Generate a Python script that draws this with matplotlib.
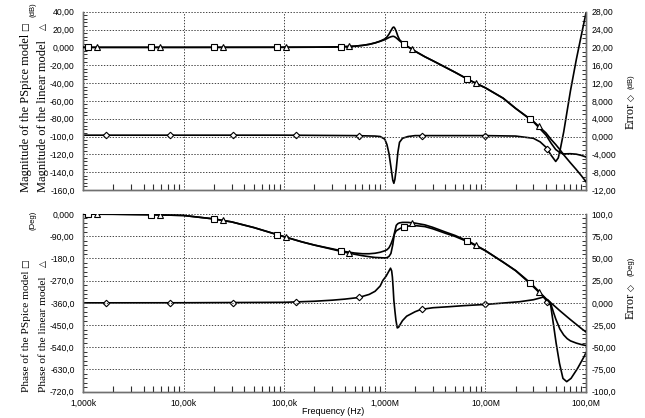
import numpy as np
import matplotlib
matplotlib.use("Agg")
import matplotlib.pyplot as plt
from matplotlib.ticker import FixedLocator, AutoMinorLocator, NullFormatter

# ---------------- data ----------------
# Top panel: magnitude in dB
mag_freq = [1e3, 1e4, 1e5, 2e5, 3e5, 4e5, 5e5, 6e5, 7e5, 8e5, 9e5, 1e6, 1.05e6, 1.1e6,
            1.15e6, 1.2e6, 1.23e6, 1.26e6, 1.3e6, 1.35e6, 1.4e6, 1.5e6, 1.7e6, 2e6, 2.5e6,
            3e6, 4e6, 5e6, 7e6, 1e7, 1.5e7, 2e7, 3e7, 4e7, 4.5e7, 5e7, 5.5e7, 6e7, 7e7,
            8e7, 9e7, 1e8]
mag_pspice = [0, 0, 0.1, 0.2, 0.4, 0.8, 1.3, 2.2, 3.4, 5.0, 6.8, 8.6, 9.8, 11.0,
              11.9, 12.4, 12.3, 11.7, 10.6, 9.0, 7.4, 4.8, 0.6, -4.3, -10.5,
              -15.0, -22.3, -28.0, -37.0, -45.4, -57.0, -68.5, -83.5, -98.4, -107.5, -114.6, -118.0, -119.5, -119.3,
              -119.8, -121.2, -123.0]
mag_linear = [0, 0, 0.1, 0.2, 0.4, 0.8, 1.3, 2.2, 3.4, 5.0, 7.0, 9.5, 11.6, 14.8,
              18.7, 22.2, 22.8, 21.3, 17.8, 12.5, 8.7, 5.2, 0.7, -4.3, -10.5,
              -15.0, -22.3, -28.0, -37.0, -45.4, -57.0, -68.5, -83.0, -96.0, -103.3, -109.0, -114.7, -120.5, -129.5,
              -137.0, -144.0, -150.7]

err_mag_freq = [1e3, 1e5, 5e5, 8e5, 9e5, 1e6, 1.05e6, 1.1e6, 1.15e6, 1.2e6, 1.23e6, 1.26e6,
                1.3e6, 1.35e6, 1.4e6, 1.5e6, 1.7e6, 2e6, 1e7, 2e7, 3e7, 3.5e7, 4e7, 4.5e7,
                5e7, 5.3e7, 5.5e7, 6e7, 7e7, 8e7, 9e7, 1e8]
err_mag = [0.3, 0.3, 0.2, 0.1, 0.0, -0.6, -1.8, -3.8, -6.8, -9.8, -10.5, -9.6,
           -7.2, -3.5, -1.3, -0.4, 0.0, 0.2, 0.2, 0.1, -0.4, -1.2, -2.4, -4.2,
           -5.6, -4.8, -3.3, 1.0, 10.2, 17.2, 22.8, 27.7]

# Bottom panel: phase in degrees
ph_freq = [1e3, 2e3, 5e3, 1e4, 2e4, 3e4, 5e4, 7e4, 1e5, 1.5e5, 2e5, 3e5, 4e5, 5e5, 6e5,
           7e5, 8e5, 9e5, 1e6, 1.05e6, 1.1e6, 1.15e6, 1.2e6, 1.25e6, 1.3e6, 1.35e6, 1.4e6,
           1.5e6, 1.7e6, 2e6, 2.5e6, 3e6, 4e6, 5e6, 7e6, 1e7, 1.5e7, 2e7, 2.5e7, 3e7,
           4e7, 4.2e7, 4.5e7, 4.75e7, 5e7, 5.5e7, 6e7, 6.5e7, 7e7, 8e7, 9e7, 1e8]
ph_pspice = [-0.5, -1, -3, -6, -20, -32, -55, -73, -92, -113, -126, -141, -152, -158, -161,
             -161, -159, -155, -149, -145, -137, -122, -102, -80, -68, -64, -60,
             -54, -49, -47, -51, -60, -78, -91, -116, -149, -195, -229, -262, -291,
             -343, -351, -368, -398, -425, -466, -490, -505, -514, -523, -529, -533]
ph_linear = [-0.5, -1, -3, -6, -20, -32, -55, -73, -92, -113, -126, -143, -155, -163, -169,
             -173, -176, -177, -178, -177, -172, -160, -125, -75, -46, -39, -36,
             -34, -34, -37, -44, -54, -73, -87, -113, -148, -195, -230, -265, -295,
             -345, -351, -361, -369, -377, -392, -405, -417, -428, -447, -464, -478]

err_ph_freq = [1e3, 1e4, 1e5, 2e5, 3e5, 4e5, 5.5e5, 7e5, 8e5, 9e5, 9.6e5, 1.03e6, 1.09e6,
               1.14e6, 1.17e6, 1.19e6, 1.21e6, 1.23e6, 1.26e6, 1.29e6, 1.33e6, 1.37e6,
               1.41e6, 1.5e6, 1.65e6, 2e6, 2.28e6, 3e6, 4.4e6, 6e6, 9.6e6, 1.4e7, 2.2e7,
               3e7, 3.5e7, 3.75e7, 3.9e7, 4.06e7, 4.45e7, 4.73e7, 5.05e7, 5.45e7, 5.9e7,
               6.43e7, 7.1e7, 8.25e7, 9.65e7, 1e8]
err_ph = [0.0, 0.1, 0.6, 1.8, 3.0, 4.2, 6.0, 9.5, 13.0, 19.0, 25.5, 30.0, 35.0,
          39.0, 36.0, 29.0, 17.0, 3.0, -9.0, -19.5, -28.2, -27.5,
          -25.0, -20.0, -15.0, -10.0, -7.5, -5.5, -4.3, -3.2, -1.9, -0.5, 1.3,
          3.5, 5.5, 6.5, 5.0, 1.3, -2.4, -23.0, -45.5, -68.0, -85.0,
          -88.7, -85.0, -73.7, -59.8, -56.0]

# marker frequencies (PSpice places a marker every few samples)
sq_freq = [1.12e3, 4.76e3, 2.02e4, 8.56e4, 3.63e5, 1.54e6, 6.54e6, 2.78e7]
tri_freq = [1.38e3, 5.82e3, 2.47e4, 1.05e5, 4.44e5, 1.88e6, 7.99e6, 3.39e7]
dia_freq = [1.71e3, 7.26e3, 3.08e4, 1.31e5, 5.54e5, 2.35e6, 9.96e6, 4.13e7]

x_ticks = [1e3, 1e4, 1e5, 1e6, 1e7, 1e8]
x_tick_labels = ["1,000k", "10,00k", "100,0k", "1,000M", "10,00M", "100,0M"]
mag_ticks = [40, 20, 0, -20, -40, -60, -80, -100, -120, -140, -160]
mag_tick_labels = ["40,00", "20,00", "0,000", "-20,00", "-40,00", "-60,00", "-80,00",
                   "-100,0", "-120,0", "-140,0", "-160,0"]
errm_ticks = [28, 24, 20, 16, 12, 8, 4, 0, -4, -8, -12]
errm_tick_labels = ["28,00", "24,00", "20,00", "16,00", "12,00", "8,000", "4,000",
                    "0,000", "-4,000", "-8,000", "-12,00"]
ph_ticks = [0, -90, -180, -270, -360, -450, -540, -630, -720]
ph_tick_labels = ["0,000", "-90,00", "-180,0", "-270,0", "-360,0", "-450,0", "-540,0",
                  "-630,0", "-720,0"]
errp_ticks = [100, 75, 50, 25, 0, -25, -50, -75, -100]
errp_tick_labels = ["100,0", "75,00", "50,00", "25,00", "0,000", "-25,00", "-50,00",
                    "-75,00", "-100,0"]

# ---------------- drawing ----------------
W, H = 645, 418
fig = plt.figure(figsize=(W / 100, H / 100), dpi=100)
SANS = ["Liberation Sans", "DejaVu Sans"]
SERIF = ["Liberation Serif", "DejaVu Sans"]
SYM = ["DejaVu Sans"]
TICK_FS = 6.2
LW = 1.2
grid_kw = dict(color="#444444", linestyle=(0, (1.4, 1.6)), linewidth=0.7)


def px_axes(x0, y0, x1, y1):
    return fig.add_axes([x0 / W, 1 - y1 / H, (x1 - x0) / W, (y1 - y0) / H])


def marker_y(fr, xs, ys):
    return np.interp(np.log10(fr), np.log10(xs), ys)


def style_axes(ax, axr, yticks, ylabels, ylim, rticks, rlabels, rlim, lminor, rminor, show_x):
    ax.set_xscale("log")
    ax.set_xlim(1e3, 1e8)
    ax.set_ylim(*ylim)
    axr.set_ylim(*rlim)
    ax.set_yticks(yticks)
    ax.set_yticklabels(ylabels, fontsize=TICK_FS, family=SANS)
    axr.set_yticks(rticks)
    axr.set_yticklabels(rlabels, fontsize=TICK_FS, family=SANS)
    ax.yaxis.set_minor_locator(AutoMinorLocator(lminor))
    axr.yaxis.set_minor_locator(AutoMinorLocator(rminor))
    ax.set_xticks(x_ticks)
    ax.xaxis.set_minor_locator(FixedLocator([m * d for d in [1e3, 1e4, 1e5, 1e6, 1e7] for m in range(2, 10)]))
    ax.xaxis.set_minor_formatter(NullFormatter())
    if show_x:
        ax.set_xticklabels(x_tick_labels, fontsize=TICK_FS, family=SANS)
    else:
        ax.set_xticklabels([])
    ax.grid(True, which="major", **grid_kw)
    for a in (ax, axr):
        a.spines["top"].set_visible(False)
        for s in ("left", "right", "bottom"):
            a.spines[s].set_color("#707070")
            a.spines[s].set_linewidth(1.0)
    ax.tick_params(axis="x", which="major", direction="in", length=0, pad=5)
    ax.tick_params(axis="x", which="minor", direction="in", length=4.5, width=0.8, color="#303030")
    ax.tick_params(axis="y", which="major", direction="in", length=0, pad=6)
    ax.tick_params(axis="y", which="minor", direction="in", length=3.0, width=0.7, color="#303030")
    axr.tick_params(axis="y", which="major", direction="in", length=0, pad=4)
    axr.tick_params(axis="y", which="minor", direction="in", length=3.0, width=0.7, color="#303030")
    ax.set_zorder(axr.get_zorder() + 1)
    ax.patch.set_visible(False)


mk = dict(markerfacecolor="white", markeredgecolor="black", markeredgewidth=0.8, linestyle="none", zorder=5)

# ---- top panel ----
ax1 = px_axes(83, 11.7, 586, 190)
ax1r = ax1.twinx()
ax1.plot(mag_freq, mag_pspice, color="black", lw=LW, zorder=3)
ax1.plot(mag_freq, mag_linear, color="black", lw=LW, zorder=3)
ax1r.plot(err_mag_freq, err_mag, color="black", lw=LW)
ax1.plot(sq_freq, marker_y(sq_freq, mag_freq, mag_pspice), marker="s", markersize=4, **mk)
ax1.plot(tri_freq, marker_y(tri_freq, mag_freq, mag_linear), marker="^", markersize=5, **mk)
ax1r.plot(dia_freq, marker_y(dia_freq, err_mag_freq, err_mag), marker="D", markersize=3.3, **mk)
style_axes(ax1, ax1r, mag_ticks, mag_tick_labels, (-160, 40), errm_ticks, errm_tick_labels, (-12, 28), 5, 4, False)

# ---- bottom panel ----
ax2 = px_axes(83, 214, 586, 391.7)
ax2r = ax2.twinx()
ax2.plot(ph_freq, ph_pspice, color="black", lw=LW, zorder=3)
ax2.plot(ph_freq, ph_linear, color="black", lw=LW, zorder=3)
ax2r.plot(err_ph_freq, err_ph, color="black", lw=LW)
ax2.plot(sq_freq, marker_y(sq_freq, ph_freq, ph_pspice), marker="s", markersize=4, **mk)
ax2.plot(tri_freq, marker_y(tri_freq, ph_freq, ph_linear), marker="^", markersize=5, **mk)
ax2r.plot(dia_freq, marker_y(dia_freq, err_ph_freq, err_ph), marker="D", markersize=3.3, **mk)
style_axes(ax2, ax2r, ph_ticks, ph_tick_labels, (-720, 0), errp_ticks, errp_tick_labels, (-100, 100), 5, 5, True)

# ---- axis titles ----
def ftext(x, y, s, **kw):
    fig.text(x / W, 1 - y / H, s, **kw)

lab = dict(rotation=90, family=SERIF, fontsize=9, ha="center", va="bottom")
lab2 = dict(rotation=90, family=SERIF, fontsize=8.2, ha="center", va="bottom")
sym = dict(rotation=90, family=SYM, fontsize=6.5, ha="center", va="center")
unit = dict(rotation=90, family=SANS, fontsize=5.5, ha="center", va="center")

ftext(26, 192, "Magnitude of the PSpice model", **lab)
ftext(26, 26.5, "\u25a1", **sym)
ftext(43, 192, "Magnitude of the linear model", **lab)
ftext(43, 26.5, "\u25b3", **sym)
ftext(33, 10, "(dB)", **unit)

ftext(26, 392, "Phase of the PSpice model", **lab2)
ftext(26, 264, "\u25a1", **sym)
ftext(43, 392, "Phase of the linear model", **lab2)
ftext(43, 264, "\u25b3", **sym)
ftext(33, 220, "(Deg)", **unit)

ftext(631, 129, "Error", rotation=90, family=SERIF, fontsize=9, ha="center", va="bottom")
ftext(631, 98, "\u25c7", **sym)
ftext(631, 82, "(dB)", **unit)
ftext(631, 319, "Error", rotation=90, family=SERIF, fontsize=9, ha="center", va="bottom")
ftext(631, 288, "\u25c7", **sym)
ftext(631, 266, "(Deg)", **unit)

ftext(333, 412, "Frequency (Hz)", family=SANS, fontsize=6.5, ha="center", va="center")

fig.savefig("out.png", dpi=100, facecolor="white")
